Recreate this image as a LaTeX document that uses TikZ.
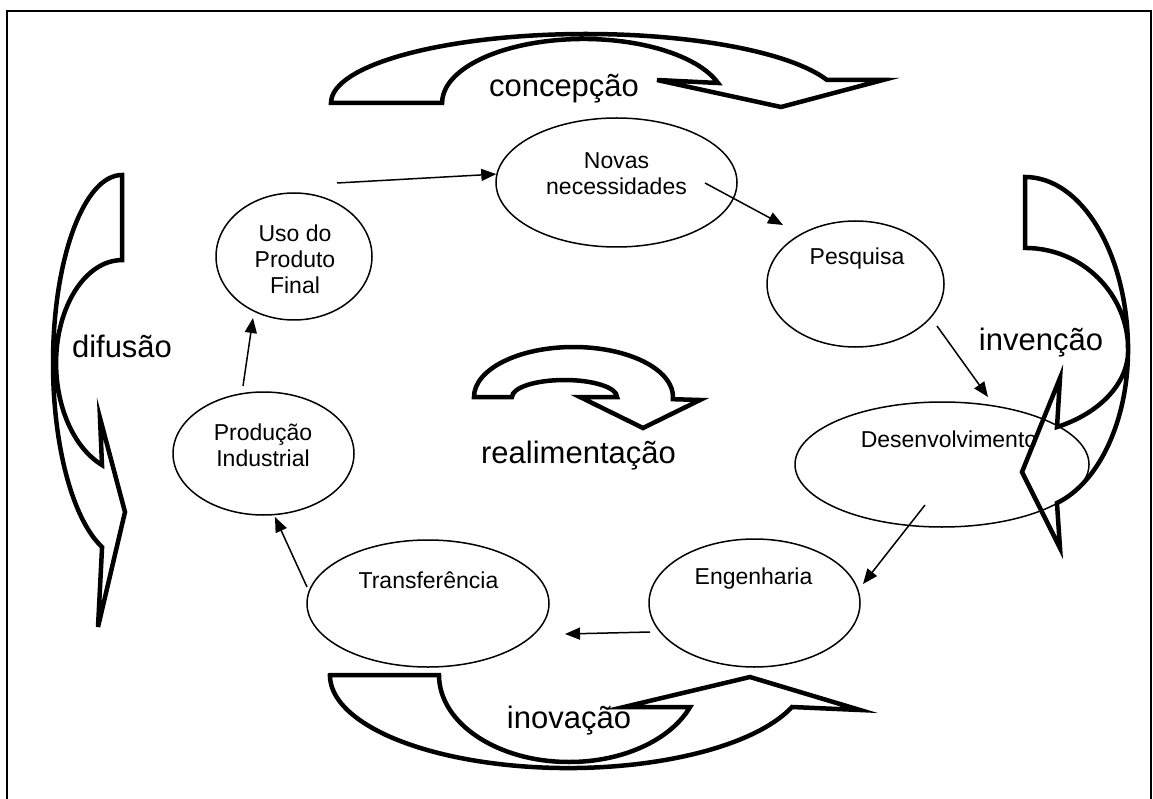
\documentclass[tikz,border=0pt]{standalone}
\usepackage{fontspec}
\setmainfont{Liberation Sans}
\usetikzlibrary{arrows.meta,shapes.geometric}
\begin{document}
\begin{tikzpicture}[x=1pt,y=-1pt,
  oval/.style={draw, ellipse, line width=1.5pt, inner sep=0pt},
  lbl/.style={font=\fontsize{23}{26}\selectfont, align=center, inner sep=0pt},
  big/.style={font=\fontsize{31}{36}\selectfont, inner sep=0pt, anchor=base},
  flow/.style={line width=1.5pt, -{Triangle[length=15pt,width=12pt]}},
  band/.style={line width=4.5pt, line join=miter},
]
\useasboundingbox (0,0) rectangle (1153,799);
\clip (0,0) rectangle (1153,799);

% open frame (bottom edge lies below the page)
\draw[line width=2pt] (7,820) -- (7,11) -- (1151,11) -- (1151,820);

% stages of the cycle
\node[oval, minimum width=241pt, minimum height=129pt] (nov) at (616.5,182.5) {};
\node[oval, minimum width=156pt, minimum height=127pt] (uso) at (294,256.5) {};
\node[oval, minimum width=177pt, minimum height=126pt] (pes) at (855.5,284) {};
\node[oval, minimum width=294pt, minimum height=125pt] (des) at (942,464.5) {};
\node[oval, minimum width=181pt, minimum height=123pt] (pro) at (263.5,453.5) {};
\node[oval, minimum width=242pt, minimum height=127pt] (tra) at (428,603.5) {};
\node[oval, minimum width=211pt, minimum height=128pt] (eng) at (754.5,603) {};

\node[lbl] (novT) at (616.5,174) {Novas\\necessidades};
\node[lbl] (usoT) at (295,259) {Uso do\\Produto\\Final};
\node[lbl] (pesT) at (857,259) {Pesquisa};
\node[lbl] (desT) at (949,439) {Desenvolvimento};
\node[lbl] (proT) at (263,445.5) {Produção\\Industrial};
\node[lbl] (traT) at (428.5,580) {Transferência};
\node[lbl] (engT) at (753.5,579) {Engenharia};

% connector end points
\coordinate (a0) at (337,183);
\coordinate (b0) at (705,183); \coordinate (b1) at (783,225);
\coordinate (c0) at (937,326); \coordinate (c1) at (988,397);
\coordinate (d0) at (925,505); \coordinate (d1) at (863,584);
\coordinate (e0) at (650,632); \coordinate (e1) at (565,634);
\coordinate (f0) at (307,587); \coordinate (f1) at (275,517);
\coordinate (g0) at (243,386); \coordinate (g1) at (253,318);

\draw[flow] (a0) -- (nov.176);
\draw[flow] (b0) -- (b1);
\draw[flow] (c0) -- (c1);
\draw[flow] (d0) -- (d1);
\draw[flow] (e0) -- (e1);
\draw[flow] (f0) -- (f1);
\draw[flow] (g0) -- (g1);

% curved block arrows
% top: concepcao
\draw[band] (331,103) arc[start angle=180, end angle=340.5, x radius=255.3, y radius=69]
  -- (883,80) -- (781,107) -- (657,80) -- (718,83)
  arc[start angle=341.8, end angle=180, x radius=141.5, y radius=64] -- cycle;
% bottom: inovacao
\draw[band] (330,675) -- (439,675)
  arc[start angle=180, end angle=21.6, x radius=130.1, y radius=87]
  -- (624,707) -- (750,677) -- (860,710) -- (792,707)
  arc[start angle=20.1, end angle=180, x radius=238.3, y radius=93] -- cycle;
% left: difusao
\draw[band] (122,175)
  arc[start angle=270, end angle=180, x radius=69, y radius=188]
  arc[start angle=180, end angle=109.3, x radius=73.3, y radius=195]
  -- (98,627) -- (125,512) -- (100,418) -- (102,465)
  arc[start angle=112.1, end angle=180, x radius=73.6, y radius=110]
  arc[start angle=180, end angle=270, x radius=66, y radius=103] -- cycle;
% right: invencao
\draw[band] (1025,177)
  arc[start angle=270, end angle=360, x radius=103, y radius=173]
  arc[start angle=0, end angle=73, x radius=100.4, y radius=160]
  -- (1060,548) -- (1022,472) -- (1060,378) -- (1057,427)
  arc[start angle=65, end angle=0, x radius=123.3, y radius=85]
  arc[start angle=0, end angle=-90, x radius=103, y radius=102] -- cycle;
% centre: realimentacao
\draw[band] (474,397)
  arc[start angle=180, end angle=362.5, x radius=99.5, y radius=50]
  -- (700,400) -- (643,428) -- (580,397) -- (617,397)
  arc[start angle=0, end angle=-180, x radius=52.5, y radius=17] -- cycle;

% phase labels
\node[big] (tC) at (564,97) {concepção};
\node[big] (tD) at (122,357) {difusão};
\node[big] (tI) at (1041,350) {invenção};
\node[big] (tR) at (578.5,463) {realimentação};
\node[big] (tN) at (569,728) {inovação};
\end{tikzpicture}
\end{document}
